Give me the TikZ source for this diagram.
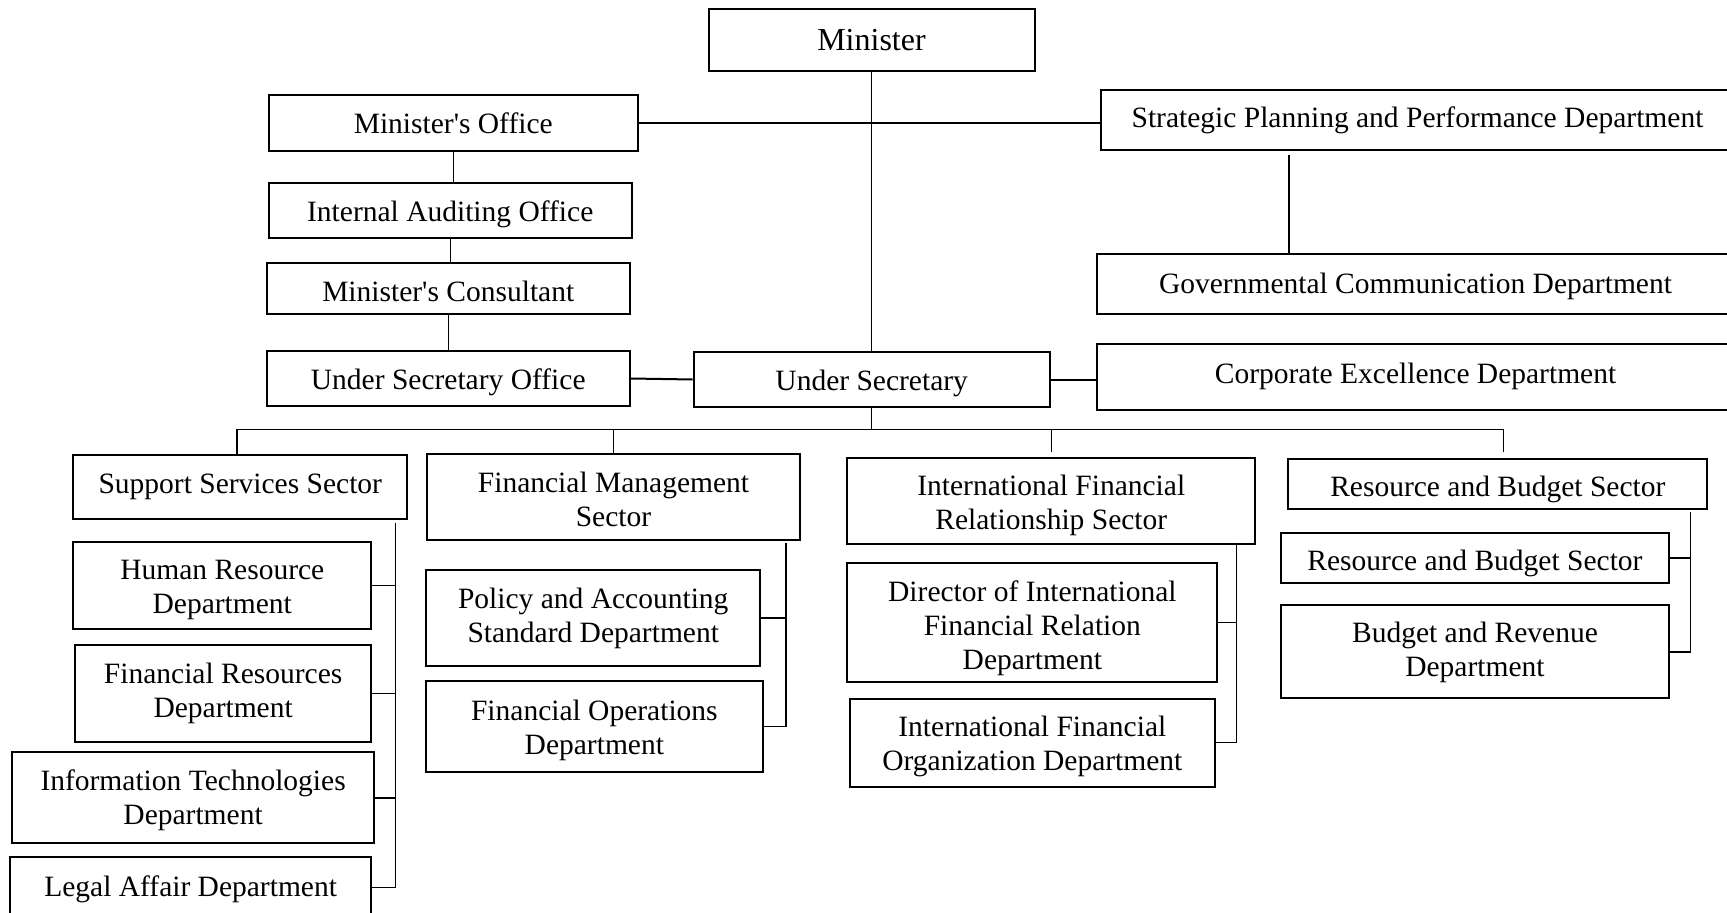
\documentclass[tikz,border=0pt]{standalone}
\usepackage{fontspec}
\setmainfont{Liberation Serif}
\usepackage{tikz}
\usetikzlibrary{positioning}
\newcommand{\lift}[1]{\rule{0pt}{#1pt}}
\tikzset{
    unit/.style = {rectangle, draw=black, line width=0.8pt, inner sep=0pt, align=center, fill=white},
    sz/.style 2 args = {minimum width=#1*0.4pt, minimum height=#2*0.4pt},
    link/.style = {line width=0.6pt, draw=black},
}

\begin{document}
\begin{tikzpicture}[
  x=0.4pt, y=-0.4pt,
  font=\fontsize{11.8}{13.6}\selectfont]
  \useasboundingbox (0,0) rectangle (1727,913);
  \clip (0,0) rectangle (1727,913);

  % top level
  \node[unit, sz={326}{62.5}, font=\fontsize{12.8}{14}\selectfont] (min) at (871.5,39.75) {Minister};
  \node[unit, sz={369.5}{56.5}] (mo)   at (453.25,122.75) {\lift{9}Minister\textquotesingle s Office};
  \node[unit, sz={363.5}{55}]   (iao)  at (450.25,210)    {\lift{11.5}Internal Auditing Office};
  \node[unit, sz={363.5}{51.5}] (mc)   at (448.25,288.25) {\lift{11}Minister\textquotesingle s Consultant};
  \node[unit, sz={363.5}{55}]   (uso)  at (448.25,378.5)  {\lift{11}Under Secretary Office};
  \node[unit, sz={356}{55.6}]   (us)   at (871.7,379.5)   {\lift{11}Under Secretary};
  \node[unit, sz={633}{59.5}]   (sppd) at (1417.5,119.75) {\lift{9}Strategic Planning and Performance Department};
  \node[unit, sz={637}{60}]     (gcd)  at (1415.5,284)    {\lift{10}Governmental Communication Department};
  \node[unit, sz={637}{66}]     (ced)  at (1415.5,376.5)  {Corporate Excellence Department};

  % sectors
  \node[unit, sz={334}{63.7}]   (sss)  at (240.3,486.85)  {Support Services Sector};
  \node[unit, sz={372.4}{86.3}] (fms)  at (613.5,497.15)  {\lift{10}Financial Management\\Sector};
  \node[unit, sz={407.9}{86}]   (ifrs) at (1051.25,501)   {\lift{12}International Financial\\Relationship Sector};
  \node[unit, sz={419}{50.3}]   (rbs)  at (1497.8,484.15) {\lift{12.5}Resource and Budget Sector};

  % departments
  \node[unit, sz={298}{86.7}]   (hr)    at (222.3,585.65)  {\lift{11}Human Resource\\Department};
  \node[unit, sz={296.3}{97.6}] (fr)    at (223.15,693.5)  {Financial Resources\\Department};
  \node[unit, sz={361.8}{91}]   (it)    at (193.1,797.8)   {\lift{10}Information Technologies\\Department};
  \node[unit, sz={361.3}{60.7}] (lad)   at (190.65,887.65) {\lift{10}Legal Affair Department};
  \node[unit, sz={334.1}{95.7}] (pasd)  at (593.25,618.15) {Policy and Accounting\\Standard Department};
  \node[unit, sz={336.3}{91.3}] (fod)   at (594.35,726.65) {\lift{11}Financial Operations\\Department};
  \node[unit, sz={370.1}{118.4}] (difrd) at (1032.35,622.5) {\lift{13}Director of International\\Financial Relation\\Department};
  \node[unit, sz={365.3}{88}]   (ifod)  at (1032.35,742.7) {\lift{11}International Financial\\Organization Department};
  \node[unit, sz={388.7}{50.6}] (rbs2)  at (1474.95,558)   {\lift{12.5}Resource and Budget Sector};
  \node[unit, sz={388.7}{93}]   (brd)   at (1474.95,651.8) {\lift{9}Budget and Revenue\\Department};

  \coordinate (sg)  at (1289,155);
  \coordinate (bl)  at (237,429.3);
  \coordinate (br)  at (1503.5,429.3);
  \coordinate (ssb) at (395.7,522.7);
  \coordinate (fmb) at (785.8,542.7);
  \coordinate (ifb) at (1236.3,542.7);
  \coordinate (rbb) at (1690.5,511.7);

  % connectors
  \draw[link] (min.south) -- (min.south |- us.north);
  \draw[link] (mo.east) -- (mo.east -| sppd.west);
  \draw[link] (mo.south) -- (mo.south |- iao.north);
  \draw[link] (iao.south) -- (iao.south |- mc.north);
  \draw[link] (mc.south) -- (mc.south |- uso.north);
  \draw[link, line width=0.8pt] (uso.east) -- (us.west);
  \draw[link, line width=0.8pt] (us.east) -- (us.east -| ced.west);
  \draw[link] (sg) -- (sg |- gcd.north);
  \draw[link] (us.south) -- (us.south |- bl);
  \draw[link] (bl) -- (br);
  \draw[link] (bl) -- (bl |- sss.north);
  \draw[link] (fms.north |- bl) -- (fms.north);
  \draw[link] (ifrs.north |- bl) -- ++(0,23);
  \draw[link] (br) -- ++(0,23);

  \draw[link] (ssb) -- (ssb |- lad.east);
  \foreach \d in {hr,fr,it,lad}
    \draw[link] (\d.east) -- (\d.east -| ssb);
  \draw[link] (fmb) -- (fmb |- fod.east);
  \foreach \d in {pasd,fod}
    \draw[link] (\d.east) -- (\d.east -| fmb);
  \draw[link] (ifb) -- (ifb |- ifod.east);
  \foreach \d in {difrd,ifod}
    \draw[link] (\d.east) -- (\d.east -| ifb);
  \draw[link] (rbb) -- (rbb |- brd.east);
  \foreach \d in {rbs2,brd}
    \draw[link] (\d.east) -- (\d.east -| rbb);
\end{tikzpicture}
\end{document}
